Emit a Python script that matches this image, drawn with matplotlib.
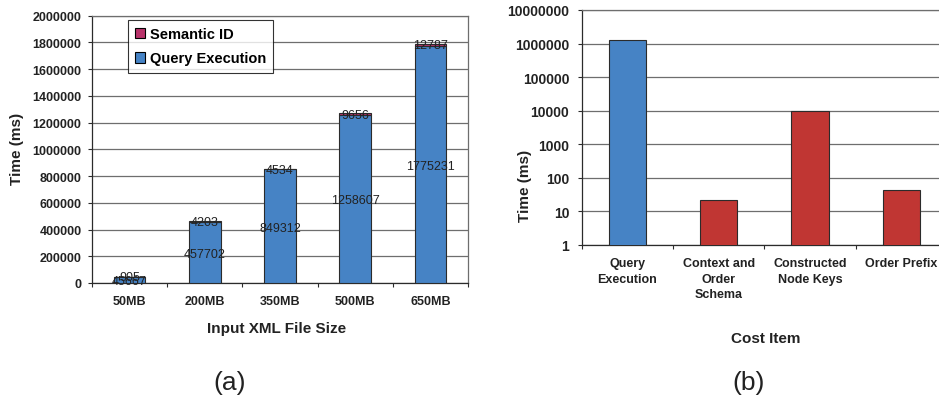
import numpy as np
import matplotlib
matplotlib.use("Agg")
import matplotlib.pyplot as plt
from matplotlib.patches import Patch
from matplotlib.ticker import FixedLocator, FuncFormatter

plt.rcParams['font.family'] = ['Liberation Sans', 'DejaVu Sans']

# (a) total time per input size
sizes = ["50MB", "200MB", "350MB", "500MB", "650MB"]
query_exec = [45667, 457702, 849312, 1258607, 1775231]
semantic_id = [905, 4203, 4534, 9656, 12787]

# (b) cost breakdown, log scale
cost_items = ["Query\nExecution", "Context and\nOrder\nSchema", "Constructed\nNode Keys", "Order Prefix"]
cost_values = [1258607, 21, 9656, 42]
cost_colors = ["#4683c5", "#c03633", "#c03633", "#c03633"]

BLUE = "#4683c5"
MAGENTA = "#b8336a"
GRID = "#6e6e6e"
EDGE = "#2b2b2b"

fig = plt.figure(figsize=(9.39, 4.02), dpi=100)

# ---- panel (a) ----
ax1 = fig.add_axes([92 / 939, 1 - 284 / 402, 376 / 939, 267.3 / 402])
x = np.arange(len(sizes))
w = 0.42
ax1.bar(x, query_exec, w, color=BLUE, edgecolor=EDGE, linewidth=0.8, zorder=3)
ax1.bar(x, semantic_id, w, bottom=query_exec, color=MAGENTA, edgecolor=EDGE,
        linewidth=0.8, zorder=3)
for i in range(len(sizes)):
    ax1.text(x[i], query_exec[i] / 2, str(query_exec[i]), ha='center',
             va='center_baseline', fontsize=9, color="#222222", zorder=4)
    ax1.text(x[i], query_exec[i] + semantic_id[i] / 2 + 8000, str(semantic_id[i]),
             ha='center', va='center_baseline', fontsize=9, color="#222222", zorder=4)

ax1.set_xlim(-0.5, len(sizes) - 0.5)
ax1.set_ylim(0, 2000000)
ax1.set_yticks(np.arange(0, 2000001, 200000))
ax1.yaxis.set_major_formatter(FuncFormatter(lambda v, p: "%d" % v))
ax1.set_xticks(x)
ax1.set_xticklabels(sizes, fontsize=9, fontweight='bold', color="#222222")
ax1.xaxis.set_minor_locator(FixedLocator(np.arange(-0.5, len(sizes), 1)))
ax1.tick_params(axis='x', which='major', length=0, pad=9)
ax1.tick_params(axis='x', which='minor', length=3, width=0.8, color=EDGE)
ax1.tick_params(axis='y', length=3, width=0.8, pad=4.5, labelsize=9, color=EDGE)
for lab in ax1.get_yticklabels():
    lab.set_fontweight('bold')
    lab.set_color("#222222")
ax1.grid(axis='y', color=GRID, linewidth=0.9, zorder=0)
for s in ['left', 'bottom']:
    ax1.spines[s].set_color(EDGE)
    ax1.spines[s].set_linewidth(0.9)
for s in ['top', 'right']:
    ax1.spines[s].set_color(GRID)
    ax1.spines[s].set_linewidth(0.9)

handles = [Patch(facecolor=MAGENTA, edgecolor='black', linewidth=0.8, label="Semantic ID"),
           Patch(facecolor=BLUE, edgecolor='black', linewidth=0.8, label="Query Execution")]
leg = fig.legend(handles=handles, loc='upper left',
                 bbox_to_anchor=(127.7 / 939, 1 - 21 / 402),
                 prop={'weight': 'bold', 'size': 10.5}, frameon=True, fancybox=False,
                 edgecolor='black', handlelength=0.7, handleheight=0.7,
                 handletextpad=0.3, borderpad=0.5, labelspacing=0.7, borderaxespad=0)
leg.get_frame().set_linewidth(0.8)

fig.text(17 / 939, 1 - 149 / 402, "Time (ms)", rotation=90, ha='center', va='center',
         fontsize=11, fontweight='bold', color="#222222")
fig.text(277 / 939, 1 - 329 / 402, "Input XML File Size", ha='center', va='center',
         fontsize=11, fontweight='bold', color="#222222")
fig.text(230 / 939, 1 - 383 / 402, "(a)", ha='center', va='center', fontsize=19,
         color="#222222")

# ---- panel (b) ----
ax2 = fig.add_axes([581.7 / 939, 1 - 245.7 / 402, 365.3 / 939, 234.7 / 402])
xb = np.arange(len(cost_items))
ax2.bar(xb, cost_values, 0.41, color=cost_colors, edgecolor=EDGE, linewidth=0.8, zorder=3)
ax2.set_yscale('log')
ax2.set_ylim(1, 1e7)
ax2.yaxis.set_major_locator(FixedLocator([10 ** k for k in range(8)]))
ax2.yaxis.set_minor_locator(FixedLocator([]))
ax2.yaxis.set_major_formatter(FuncFormatter(lambda v, p: "%d" % round(v)))
ax2.set_xlim(-0.5, len(cost_items) - 0.5)
ax2.set_xticks(xb)
ax2.set_xticklabels(cost_items, fontsize=9, fontweight='bold', color="#222222",
                    linespacing=1.4)
ax2.xaxis.set_minor_locator(FixedLocator(np.arange(-0.5, len(cost_items), 1)))
ax2.tick_params(axis='x', which='major', length=0, pad=9)
ax2.tick_params(axis='x', which='minor', length=3, width=0.8, color=EDGE)
ax2.tick_params(axis='y', which='major', length=3, width=0.8, pad=6, labelsize=10,
                color=EDGE)
for lab in ax2.get_yticklabels():
    lab.set_fontweight('bold')
    lab.set_color("#222222")
ax2.grid(axis='y', which='major', color=GRID, linewidth=0.9, zorder=0)
for s in ['left', 'bottom']:
    ax2.spines[s].set_color(EDGE)
    ax2.spines[s].set_linewidth(0.9)
for s in ['top', 'right']:
    ax2.spines[s].set_color(GRID)
    ax2.spines[s].set_linewidth(0.9)

fig.text(525 / 939, 1 - 186 / 402, "Time (ms)", rotation=90, ha='center', va='center',
         fontsize=11, fontweight='bold', color="#222222")
fig.text(766 / 939, 1 - 339 / 402, "Cost Item", ha='center', va='center',
         fontsize=11, fontweight='bold', color="#222222")
fig.text(749 / 939, 1 - 383 / 402, "(b)", ha='center', va='center', fontsize=19,
         color="#222222")

fig.savefig("out.png", dpi=100)
